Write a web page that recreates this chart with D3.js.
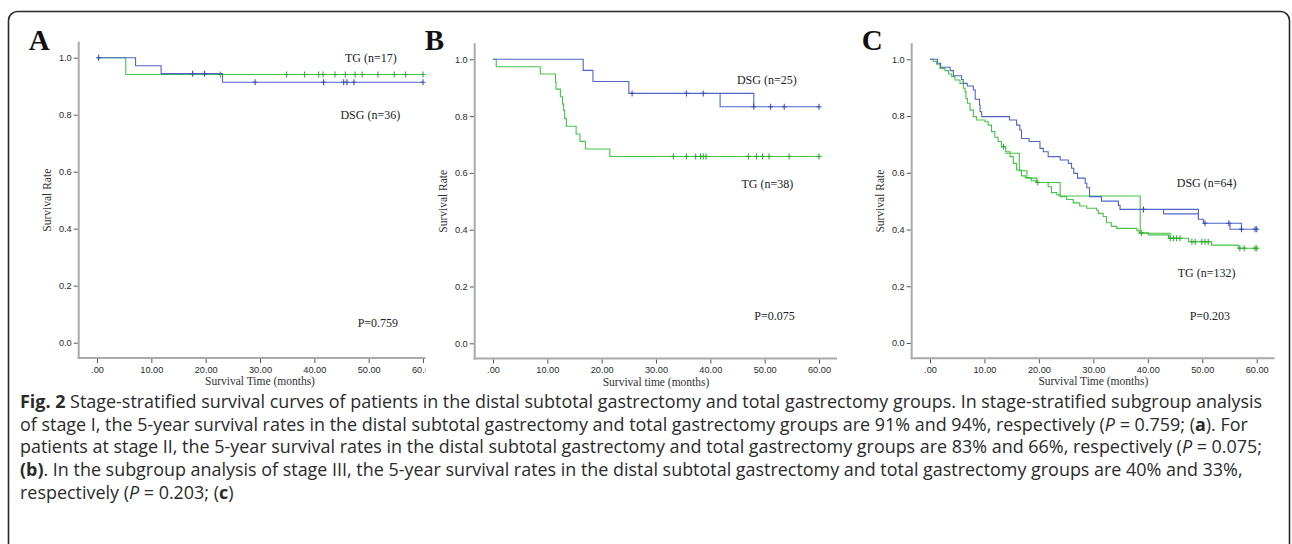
<!DOCTYPE html>
<html>
<head>
<meta charset="utf-8">
<script src="https://cdn.jsdelivr.net/npm/d3@7"></script>
<style>
body { margin: 0; background: #fff; }
svg { display: block; }
</style>
</head>
<body>
<svg id="fig" width="1292" height="544"></svg>
<script>
// axis ticks
var monthTicks = [0, 10, 20, 30, 40, 50, 60];
var monthLabels = [".00", "10.00", "20.00", "30.00", "40.00", "50.00", "60.00"];
var rateTicks = [0, 0.2, 0.4, 0.6, 0.8, 1.0];
var rateLabels = ["0.0", "0.2", "0.4", "0.6", "0.8", "1.0"];

// stage I : [month, survival after event]
var aDSG = [[0, 1], [7.1, 0.972], [11.8, 0.944], [23.1, 0.914]];
var aDSGCens = [0.3, 17.6, 19.8, 29.1, 41.7, 45.4, 46.0, 47.3, 60];
var aTG = [[0, 1], [5.3, 0.941]];
var aTGCens = [22.7, 34.9, 38.2, 40.8, 41.6, 43.8, 45.7, 47.5, 48.8, 51.7, 54.7, 56.8, 60];

// stage II
var bDSG = [[0, 1], [16.6, 0.961], [18.4, 0.922], [25.0, 0.880], [41.8, 0.833]];
var bDSGCens = [25.6, 35.6, 38.7, 48.0, 51.1, 53.6, 60];
var bDSGGhost = [[41.8, 0.880], [48.0, 0.833]];
var bTG = [[0, 1], [0.6, 0.974], [8.7, 0.948], [11.5, 0.921], [11.6, 0.895], [12.4, 0.868],
  [12.8, 0.842], [13.0, 0.820], [13.2, 0.791], [13.5, 0.764], [15.3, 0.737], [16.0, 0.711],
  [17.0, 0.684], [21.5, 0.658]];
var bTGCens = [33.2, 35.6, 37.3, 38.2, 38.7, 39.2, 47.0, 48.5, 49.6, 50.8, 54.5, 60];

// stage III
var cDSG = [[0, 1], [1.35, 0.986], [1.96, 0.972], [3.7, 0.960], [4.3, 0.942], [5.8, 0.929],
  [6.1, 0.915], [6.85, 0.906], [7.96, 0.892], [8.3, 0.859], [9.1, 0.839], [9.2, 0.815],
  [9.5, 0.798], [14.6, 0.786], [15.9, 0.768], [16.5, 0.751], [16.8, 0.721], [18.2, 0.710],
  [20.2, 0.686], [20.8, 0.674], [21.7, 0.657], [23.9, 0.645], [25.4, 0.633], [26.0, 0.616],
  [26.4, 0.598], [27.1, 0.581], [28.5, 0.563], [28.8, 0.547], [29.3, 0.516], [31.5, 0.500],
  [34.6, 0.485], [34.9, 0.471], [49.3, 0.436], [50.2, 0.422], [55.1, 0.401]];
var cDSGCens = [39.2, 50.5, 54.9, 57.2, 59.7, 60];
var cDSGGhost1 = [[42.9, 0.471], [42.9, 0.455], [49.3, 0.436]];
var cDSGGhost2 = [[55.1, 0.422], [57.2, 0.401]];
var cTG = [[0, 1], [0.61, 0.992], [1.22, 0.983], [1.84, 0.968], [2.75, 0.960], [3.37, 0.948],
  [3.98, 0.939], [4.59, 0.927], [5.51, 0.915], [6.12, 0.898], [6.43, 0.886], [6.6, 0.862],
  [6.86, 0.845], [7.35, 0.821], [7.96, 0.798], [8.57, 0.786], [10.1, 0.780], [10.7, 0.768],
  [11.3, 0.745], [11.9, 0.725], [12.5, 0.710], [13.1, 0.692], [13.9, 0.674], [14.7, 0.657],
  [15.3, 0.633], [15.9, 0.610], [16.8, 0.589], [17.5, 0.583], [18.6, 0.572], [19.4, 0.566],
  [21.7, 0.551], [22.3, 0.530], [23.3, 0.522], [23.9, 0.516], [25.1, 0.506], [26.3, 0.494],
  [27.5, 0.483], [28.8, 0.475], [30.6, 0.468], [30.9, 0.457], [31.8, 0.446], [32.4, 0.424],
  [33.3, 0.411], [34.3, 0.404], [38.0, 0.396], [38.4, 0.388], [40.1, 0.381], [43.8, 0.369],
  [47.5, 0.357], [51.7, 0.345], [56.6, 0.334]];
var cTGCens = [13.5, 19.8, 38.8, 44.1, 44.7, 45.3, 45.9, 48.1, 48.7, 49.9, 50.5, 51.1, 56.9, 57.7, 59.7, 60];
var cTGGhost = [[13.8, 0.669], [16.4, 0.607], [17.8, 0.581], [19.6, 0.566], [23.9, 0.518],
  [38.6, 0.387], [44.1, 0.369]];

var blue = "#5065c8", blueMark = "#3c4fb8";
var green = "#44c447", greenMark = "#2fad33";

var panels = [
  {letter: "A", x0: 97, x60: 423, yTop: 57.7, yBot: 342.7, clip: 425.5,
   dsg: aDSG, dsgC: aDSGCens, tg: aTG, tgC: aTGCens, dsgGhosts: [], tgGhosts: [],
   xTitle: "Survival Time (months)",
   notes: [["TG (n=17)", 50.4, 1.0], ["DSG (n=36)", 50.3, 0.798], ["P=0.759", 51.7, 0.07]]},
  {letter: "B", x0: 493, x60: 819, yTop: 59.3, yBot: 343.3, clip: null,
   dsg: bDSG, dsgC: bDSGCens, tg: bTG, tgC: bTGCens, dsgGhosts: [bDSGGhost], tgGhosts: [],
   xTitle: "Survival time (months)",
   notes: [["DSG (n=25)", 50.4, 0.927], ["TG (n=38)", 50.5, 0.563], ["P=0.075", 51.8, 0.097]]},
  {letter: "C", x0: 930, x60: 1256.7, yTop: 59.3, yBot: 343, clip: null,
   dsg: cDSG, dsgC: cDSGCens, tg: cTG, tgC: cTGCens, dsgGhosts: [cDSGGhost1, cDSGGhost2], tgGhosts: [cTGGhost],
   xTitle: "Survival Time (months)",
   notes: [["DSG (n=64)", 50.8, 0.565], ["TG (n=132)", 50.8, 0.246], ["P=0.203", 51.4, 0.096]]}
];

var svg = d3.select("#fig");

// border round the figure
svg.append("rect")
  .attr("x", 8.5).attr("y", 11.5)
  .attr("width", 1281).attr("height", 620)
  .attr("rx", 9).attr("ry", 9)
  .attr("fill", "none").attr("stroke", "#2a2a2a").attr("stroke-width", 1.6);

function survAt(curve, t) {
  var s = curve[0][1];
  curve.forEach(function(p) { if (p[0] <= t) s = p[1]; });
  return s;
}

panels.forEach(function(p, i) {
  var x = d3.scaleLinear().domain([0, 60]).range([p.x0, p.x60]);
  var y = d3.scaleLinear().domain([0, 1]).range([p.yBot, p.yTop]);
  var frameX = p.x0 - 18.3, frameY = p.yBot + 15.3;
  var frameTop = p.yTop - 16, frameRight = p.x60 + 18;

  var g = svg.append("g");
  if (p.clip) {
    svg.append("clipPath").attr("id", "clip" + i)
      .append("rect").attr("x", 0).attr("y", 0).attr("width", p.clip).attr("height", 544);
    g.attr("clip-path", "url(#clip" + i + ")");
  }

  // frame lines
  g.append("line").attr("x1", frameX).attr("x2", frameX).attr("y1", frameTop).attr("y2", frameY + 1)
    .attr("stroke", "#a9a9a9").attr("stroke-width", 2);
  g.append("line").attr("x1", frameX - 1).attr("x2", frameRight).attr("y1", frameY).attr("y2", frameY)
    .attr("stroke", "#a9a9a9").attr("stroke-width", 2);

  var yAxis = g.append("g").attr("transform", "translate(" + (frameX - 1) + ",0)")
    .call(d3.axisLeft(y).tickValues(rateTicks).tickSize(4).tickPadding(2)
      .tickFormat(function(d, k) { return rateLabels[k]; }));
  var xAxis = g.append("g").attr("transform", "translate(0," + (frameY + 1) + ")")
    .call(d3.axisBottom(x).tickValues(monthTicks).tickSize(4).tickPadding(3)
      .tickFormat(function(d, k) { return monthLabels[k]; }));
  [yAxis, xAxis].forEach(function(a) {
    a.select(".domain").remove();
    a.selectAll(".tick line").attr("stroke", "#555").attr("stroke-width", 1);
    a.selectAll(".tick text").attr("fill", "#2a2a2a")
      .style("font-family", "'Liberation Sans', Arial, sans-serif").style("font-size", "9.2px");
  });

  // axis titles
  g.append("text")
    .attr("transform", "translate(" + (frameX - 28) + "," + y(0.5) + ") rotate(-90)")
    .attr("text-anchor", "middle")
    .style("font-family", "'Liberation Serif', 'Times New Roman', serif").style("font-size", "11.5px")
    .attr("fill", "#333").text("Survival Rate");
  g.append("text")
    .attr("x", x(30)).attr("y", frameY + 27)
    .attr("text-anchor", "middle")
    .style("font-family", "'Liberation Serif', 'Times New Roman', serif").style("font-size", "11.5px")
    .attr("fill", "#333").text(p.xTitle);

  // panel letter
  g.append("text")
    .attr("x", frameX - 50).attr("y", 50)
    .style("font-family", "'Liberation Serif', 'Times New Roman', serif")
    .style("font-size", "29px").style("font-weight", "bold")
    .attr("fill", "#111").text(p.letter);

  var line = d3.line().x(function(d) { return x(d[0]); }).y(function(d) { return y(d[1]); })
    .curve(d3.curveStepAfter);

  function drawCurve(curve, ghosts, cens, col, markCol) {
    ghosts.forEach(function(gh) {
      g.append("path").attr("d", line(gh)).attr("fill", "none")
        .attr("stroke", col).attr("stroke-width", 1.1);
    });
    var pts = curve.concat([[60, curve[curve.length - 1][1]]]);
    g.append("path").attr("d", line(pts)).attr("fill", "none")
      .attr("stroke", col).attr("stroke-width", 1.1);
    var m = g.selectAll(null).data(cens).enter().append("g")
      .attr("transform", function(t) { return "translate(" + x(t) + "," + y(survAt(curve, t)) + ")"; });
    m.append("line").attr("x1", 0).attr("x2", 0).attr("y1", -3).attr("y2", 3)
      .attr("stroke", markCol).attr("stroke-width", 1.1);
    m.append("line").attr("x1", -2.5).attr("x2", 2.5).attr("y1", 0).attr("y2", 0)
      .attr("stroke", markCol).attr("stroke-width", 1.1);
  }

  drawCurve(p.tg, p.tgGhosts, p.tgC, green, greenMark);
  drawCurve(p.dsg, p.dsgGhosts, p.dsgC, blue, blueMark);

  g.selectAll(null).data(p.notes).enter().append("text")
    .attr("x", function(d) { return x(d[1]); })
    .attr("y", function(d) { return y(d[2]); })
    .attr("dy", "0.35em").attr("text-anchor", "middle")
    .style("font-family", "'Liberation Serif', 'Times New Roman', serif").style("font-size", "12px")
    .attr("fill", "#222")
    .text(function(d) { return d[0]; });
});

// caption
var captionLines = [
  [["Fig. 2", "b"], [" Stage-stratified survival curves of patients in the distal subtotal gastrectomy and total gastrectomy groups. In stage-stratified subgroup analysis", ""]],
  [["of stage I, the 5-year survival rates in the distal subtotal gastrectomy and total gastrectomy groups are 91% and 94%, respectively (", ""], ["P", "i"], [" = 0.759; (", ""], ["a", "b"], ["). For", ""]],
  [["patients at stage II, the 5-year survival rates in the distal subtotal gastrectomy and total gastrectomy groups are 83% and 66%, respectively (", ""], ["P", "i"], [" = 0.075;", ""]],
  [["(b)", "b"], [". In the subgroup analysis of stage III, the 5-year survival rates in the distal subtotal gastrectomy and total gastrectomy groups are 40% and 33%,", ""]],
  [["respectively (", ""], ["P", "i"], [" = 0.203; (", ""], ["c", "b"], [")", ""]]
];

var cap = svg.append("g")
  .style("font-family", "'Open Sans', 'Noto Sans', sans-serif")
  .style("font-size", "15px").attr("fill", "#2b2b2b");
var capTexts = cap.selectAll("text").data(captionLines).enter().append("text")
  .attr("x", 20).attr("y", function(d, k) { return 408 + k * 22.7; });
capTexts.selectAll("tspan").data(function(d) { return d; }).enter().append("tspan")
  .style("font-weight", function(d) { return d[1] === "b" ? "bold" : null; })
  .style("font-style", function(d) { return d[1] === "i" ? "italic" : null; })
  .text(function(d) { return d[0]; });
var w = capTexts.node().getComputedTextLength();
cap.style("font-size", (15 * 1243 / w) + "px");
</script>
</body>
</html>
